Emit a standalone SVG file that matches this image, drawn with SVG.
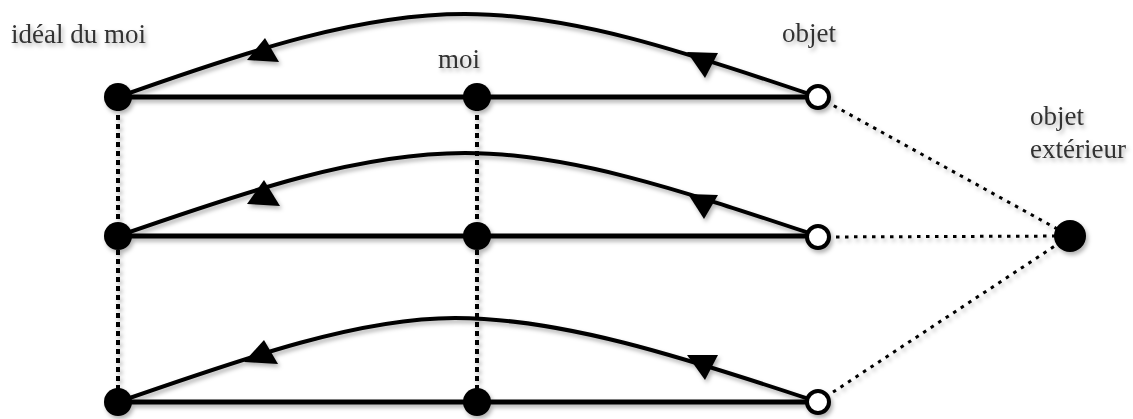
<svg xmlns="http://www.w3.org/2000/svg" width="1133" height="419" viewBox="0 0 1133 419">
<defs>
<filter id="sh" x="-10%" y="-10%" width="120%" height="130%">
<feDropShadow dx="2" dy="3" stdDeviation="2" flood-color="#000" flood-opacity="0.3"/>
</filter>
<style>
.lbl{font-family:"Liberation Serif","Times New Roman",serif;font-size:27px;fill:#333}
.solid{fill:none;stroke:#000;stroke-width:5}
.curve{fill:none;stroke:#000;stroke-width:4}
.vdot{fill:none;stroke:#000;stroke-width:4;stroke-dasharray:5 4}
.ddot{fill:none;stroke:#000;stroke-width:3;stroke-dasharray:3.5 5.5}
.arr{fill:#000}
.full{fill:#000}
.hollow{fill:#fff;stroke:#000;stroke-width:4}
</style>
</defs>
<g filter="url(#sh)">
<g id="connectors">
<line class="vdot" x1="118" y1="97" x2="118" y2="402"/>
<line class="vdot" x1="477" y1="97" x2="477" y2="402"/>
<line class="ddot" x1="818" y1="97" x2="1070" y2="236"/>
<line class="ddot" x1="818" y1="237" x2="1070" y2="236"/>
<line class="ddot" x1="818" y1="402" x2="1070" y2="236"/>
<line class="solid" x1="118" y1="97" x2="818" y2="97"/>
<line class="solid" x1="118" y1="236" x2="818" y2="236"/>
<line class="solid" x1="118" y1="402" x2="818" y2="402"/>
<path class="curve" d="M118,97 C250,50 360,14 465,14 C570,14 680,50 818,97"/>
<path class="curve" d="M118,236 C250,190 360,153 465,153 C570,153 680,190 818,236"/>
<path class="curve" d="M118,402 C250,356 360,318 455,318 C560,318 680,356 818,402"/>
<polygon class="arr" points="265,38 247,60 279,62"/>
<polygon class="arr" points="687,52 718,53 705,78"/>
<polygon class="arr" points="264,180 247,204 280,206"/>
<polygon class="arr" points="688,194 718,195 704,219"/>
<polygon class="arr" points="264,340 244,362 278,364"/>
<polygon class="arr" points="687,355 718,355 705,380"/>
</g>
<g id="ideal1"><circle class="full" cx="118" cy="97" r="14"/></g>
<g id="moi1"><circle class="full" cx="477" cy="97" r="14"/></g>
<g id="objet1"><circle class="hollow" cx="818" cy="97" r="11"/></g>
<g id="ideal2"><circle class="full" cx="118" cy="236" r="14"/></g>
<g id="moi2"><circle class="full" cx="477" cy="236" r="14"/></g>
<g id="objet2"><circle class="hollow" cx="818" cy="237" r="11"/></g>
<g id="ideal3"><circle class="full" cx="118" cy="402" r="14"/></g>
<g id="moi3"><circle class="full" cx="477" cy="402" r="14"/></g>
<g id="objet3"><circle class="hollow" cx="818" cy="402" r="11"/></g>
<g id="exterieur"><circle class="full" cx="1070" cy="236" r="16"/></g>
<g id="labels">
<text class="lbl" x="11" y="43">idéal du moi</text>
<text class="lbl" x="438" y="68">moi</text>
<text class="lbl" x="782" y="42">objet</text>
<text class="lbl" x="1030" y="125">objet</text>
<text class="lbl" x="1030" y="158">extérieur</text>
</g>
</g>
</svg>
